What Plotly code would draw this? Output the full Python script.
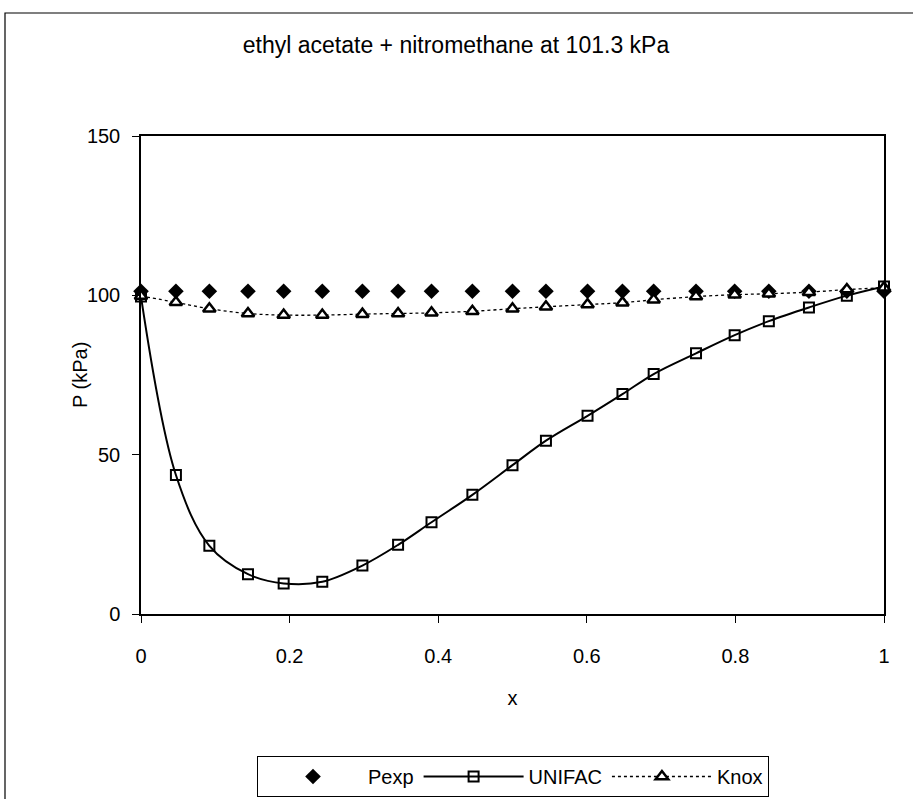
import plotly.graph_objects as go

# Liquid mole fraction of ethyl acetate
x_frac = [0.0, 0.047, 0.092, 0.144, 0.192, 0.244, 0.298, 0.346, 0.391, 0.446, 0.500,
          0.545, 0.601, 0.648, 0.690, 0.747, 0.799, 0.845, 0.899, 0.950, 1.0]

# Experimental pressure (isobaric data set)
p_exp = [101.3] * len(x_frac)

# UNIFAC prediction
p_unifac = [99.6, 43.6, 21.4, 12.5, 9.6, 10.1, 15.2, 21.7, 28.8, 37.4, 46.7,
            54.4, 62.2, 69.0, 75.3, 81.8, 87.5, 91.9, 96.2, 99.9, 102.8]

# Knox correlation
p_knox = [99.8, 97.8, 95.8, 94.3, 93.8, 93.8, 94.1, 94.3, 94.5, 95.0, 95.8,
          96.4, 97.1, 97.7, 98.6, 99.6, 100.2, 100.5, 101.0, 101.8, 102.4]

x_ticks = [0, 0.2, 0.4, 0.6, 0.8, 1]
x_ticklabels = ["0", "0.2", "0.4", "0.6", "0.8", "1"]
y_ticks = [0, 50, 100, 150]

FONT = "Liberation Sans, Arial, sans-serif"
W, H = 913, 799
ML, MR, MT, MB = 141, 29, 136, 185
PW, PH = W - ML - MR, H - MT - MB


def px_x(p):
    return (p - ML) / PW


def px_y(p):
    return (H - MB - p) / PH


fig = go.Figure()

fig.add_trace(go.Scatter(
    x=x_frac, y=p_exp, name="Pexp", mode="markers",
    marker=dict(symbol="diamond", size=12, color="black", line=dict(width=0)),
    cliponaxis=False,
))
fig.add_trace(go.Scatter(
    x=x_frac, y=p_unifac, name="UNIFAC", mode="lines+markers",
    line=dict(color="black", width=2, shape="spline", smoothing=1.0),
    marker=dict(symbol="square-open", size=10, color="black", line=dict(width=2)),
    cliponaxis=False,
))
fig.add_trace(go.Scatter(
    x=x_frac, y=p_knox, name="Knox", mode="lines+markers",
    line=dict(color="black", width=1.3, dash="dot", shape="spline", smoothing=1.0),
    marker=dict(symbol="triangle-up", size=11, color="white",
                line=dict(color="black", width=2.5)),
    cliponaxis=False,
))

# Outer chart frame (right edge runs past the page)
fig.add_shape(type="rect", xref="paper", yref="paper",
              x0=px_x(5), x1=px_x(925), y0=px_y(810), y1=px_y(13),
              line=dict(color="black", width=1.2), fillcolor="rgba(0,0,0,0)",
              layer="below")

# Y-axis title set close to the tick labels
fig.add_annotation(text="P (kPa)", textangle=-90, showarrow=False,
                   xref="paper", yref="paper", x=px_x(80), y=0.5,
                   xanchor="center", yanchor="middle",
                   font=dict(family=FONT, size=20, color="black"))

fig.update_layout(
    width=W, height=H,
    margin=dict(l=ML, r=MR, t=MT, b=MB, autoexpand=False),
    paper_bgcolor="white", plot_bgcolor="white",
    font=dict(family=FONT, size=20, color="black"),
    title=dict(text="ethyl acetate + nitromethane at 101.3 kPa",
               xref="container", yref="container",
               x=456 / W, y=1 - 45 / H, xanchor="center", yanchor="middle",
               font=dict(family=FONT, size=23, color="black")),
    showlegend=True,
    legend=dict(orientation="h", xref="container", yref="container",
                x=513 / W, y=1 - 797 / H,
                xanchor="center", yanchor="bottom",
                bordercolor="black", borderwidth=1, bgcolor="white",
                font=dict(family=FONT, size=20, color="black"),
                itemwidth=100),
    xaxis=dict(range=[0, 1], tickvals=x_ticks, ticktext=x_ticklabels,
               showgrid=False, zeroline=False,
               showline=True, linecolor="black", linewidth=1.5, mirror=True,
               ticks="outside", ticklen=7, tickwidth=1.2, tickcolor="black",
               ticklabelstandoff=16,
               title=dict(text="x", standoff=25, font=dict(size=20))),
    yaxis=dict(range=[0, 150], tickvals=y_ticks,
               showgrid=False, zeroline=False,
               showline=True, linecolor="black", linewidth=1.5, mirror=True,
               ticks="outside", ticklen=7, tickwidth=1.2, tickcolor="black",
               ticklabelstandoff=8),
)

fig.write_html("out.html")
